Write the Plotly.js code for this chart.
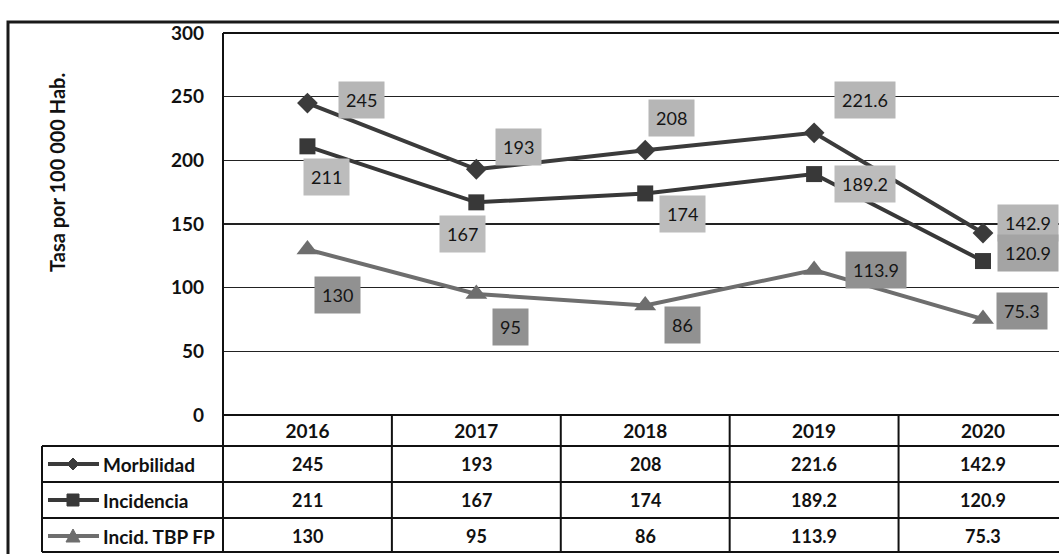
<!DOCTYPE html>
<html>
<head>
<meta charset="utf-8">
<script src="https://cdn.plot.ly/plotly-3.0.1.min.js"></script>
<style>html,body{margin:0;padding:0;background:#fff;}#chart{width:1059px;height:554px;}</style>
</head>
<body>
<div id="chart"></div>
<script>
// ---- data ----
const years = ["2016", "2017", "2018", "2019", "2020"];
const seriesNames = ["Morbilidad", "Incidencia", "Incid. TBP FP"];
const morbilidad = [245, 193, 208, 221.6, 142.9];
const incidencia = [211, 167, 174, 189.2, 120.9];
const incidTBP = [130, 95, 86, 113.9, 75.3];
const yTicks = [0, 50, 100, 150, 200, 250, 300];
const yTitle = "Tasa por 100 000 Hab.";

// ---- styles ----
const allSeries = [morbilidad, incidencia, incidTBP];
const lineColors = ["#3b3b3b", "#383838", "#6e6e6e"];
const markerSymbols = ["diamond", "square", "triangle-up"];
const markerSizes = [16, 16, 19];
const labelBg = [
  ["#b6b6b6", "#b6b6b6", "#b6b6b6", "#b6b6b6", "#b6b6b6"],
  ["#bcbcbc", "#bcbcbc", "#bcbcbc", "#bcbcbc", "#a4a4a4"],
  ["#919191", "#919191", "#919191", "#919191", "#919191"]
];
const labelShift = [
  [[54, 3], [42, 22], [26, 32], [51, 33], [45, 10]],
  [[19, -31], [-14, -32], [37, -21], [51, -10], [45, 8]],
  [[30, -46], [34, -33], [37, -20], [62, 0], [39, 8]]
];
const FONT = "Lato, 'Open Sans', sans-serif";

const traces = allSeries.map((vals, s) => ({
  type: "scatter",
  mode: "lines+markers",
  name: seriesNames[s],
  x: years,
  y: vals,
  line: {color: lineColors[s], width: 4},
  marker: {symbol: markerSymbols[s], size: markerSizes[s], color: lineColors[s]},
  cliponaxis: false,
  showlegend: false
}));

const annotations = [];
allSeries.forEach((vals, s) => {
  vals.forEach((v, i) => {
    annotations.push({
      x: i, y: v, xref: "x", yref: "y",
      text: String(v), showarrow: false,
      xanchor: "center", yanchor: "middle",
      xshift: labelShift[s][i][0], yshift: labelShift[s][i][1],
      bgcolor: labelBg[s][i], borderpad: 7,
      font: {family: FONT, size: 18, color: "#151515"}
    });
  });
});

// table geometry (paper coordinates; plot spans px 33..415 vertically)
const px2y = py => (415 - py) / 382;
const px2x = px => (px - 223) / 836;
const rowLines = [446, 482, 518, 552].map(px2y);
const rowCenters = [464, 500, 536].map(px2y);
const tableLeft = px2x(42);

// table values and legend text
allSeries.forEach((vals, s) => {
  vals.forEach((v, i) => {
    annotations.push({
      x: i, y: rowCenters[s], xref: "x", yref: "paper",
      xanchor: "center", yanchor: "middle",
      text: String(v), showarrow: false,
      font: {family: FONT, size: 18, color: "#111", weight: "bold"}
    });
  });
  annotations.push({
    x: px2x(101), y: rowCenters[s], xref: "paper", yref: "paper",
    xanchor: "left", yanchor: "middle", text: seriesNames[s], showarrow: false,
    font: {family: FONT, size: 19, color: "#111", weight: "bold"}
  });
});

// y-axis title
annotations.push({
  x: px2x(57), y: px2y(173), xref: "paper", yref: "paper",
  xanchor: "center", yanchor: "middle",
  text: yTitle, textangle: -90, showarrow: false,
  font: {family: FONT, size: 20, color: "#111", weight: "bold"}
});

const shapes = [];
// outer frame
shapes.push({type: "rect", xref: "paper", yref: "paper",
  x0: px2x(8), x1: 1.05, y0: px2y(22), y1: -0.6,
  line: {color: "#1a1a1a", width: 3}});
// top border of plot
shapes.push({type: "line", xref: "paper", yref: "paper",
  x0: 0, x1: 1, y0: 1, y1: 1, line: {color: "#111", width: 2}});
// left border extended down through table
shapes.push({type: "line", xref: "paper", yref: "paper",
  x0: 0, x1: 0, y0: 1, y1: rowLines[3], line: {color: "#111", width: 2}});
// horizontal table lines
rowLines.forEach((yy) => {
  shapes.push({type: "line", xref: "paper", yref: "paper",
    x0: tableLeft, x1: 1, y0: yy, y1: yy, line: {color: "#111", width: 2}});
});
// legend column left border
shapes.push({type: "line", xref: "paper", yref: "paper",
  x0: tableLeft, x1: tableLeft, y0: rowLines[0], y1: rowLines[3], line: {color: "#111", width: 2}});
// vertical dividers between years
for (let i = 0; i < years.length - 1; i++) {
  shapes.push({type: "line", xref: "x", yref: "paper",
    x0: i + 0.5, x1: i + 0.5, y0: 0, y1: rowLines[3], line: {color: "#111", width: 2}});
}
// legend keys (pixel paths, y up)
const keyPaths = [
  "M 0 -6 L 6 0 L 0 6 L -6 0 Z",
  "M -6 -6 L 6 -6 L 6 6 L -6 6 Z",
  "M 0 7 L 7 -6 L -7 -6 Z"
];
rowCenters.forEach((yy, s) => {
  shapes.push({type: "line", xref: "paper", yref: "paper",
    x0: px2x(48), x1: px2x(99), y0: yy, y1: yy, line: {color: lineColors[s], width: 4}});
  shapes.push({type: "path", xref: "paper", yref: "paper",
    xsizemode: "pixel", ysizemode: "pixel", xanchor: px2x(73), yanchor: yy,
    path: keyPaths[s], fillcolor: lineColors[s], line: {color: lineColors[s], width: 1}});
});

const layout = {
  width: 1059, height: 554,
  margin: {l: 223, r: 0, t: 33, b: 139, pad: 0},
  paper_bgcolor: "#fff", plot_bgcolor: "#fff",
  font: {family: FONT, color: "#111"},
  xaxis: {
    type: "category", range: [-0.5, 4.45],
    showgrid: false, zeroline: false, showline: false, ticks: "",
    tickfont: {family: FONT, size: 19, color: "#111", weight: "bold"},
    ticklabelstandoff: 3, fixedrange: true
  },
  yaxis: {
    range: [0, 300], tickvals: yTicks, ticktext: yTicks.map(String),
    showgrid: true, gridcolor: "#222", gridwidth: 1.5,
    zeroline: true, zerolinecolor: "#111", zerolinewidth: 2,
    showline: false, ticks: "",
    tickfont: {family: FONT, size: 19, color: "#111", weight: "bold"},
    ticklabelstandoff: 18, fixedrange: true
  },
  annotations: annotations,
  shapes: shapes,
  showlegend: false
};

Plotly.newPlot("chart", traces, layout, {displayModeBar: false, staticPlot: true});
</script>
</body>
</html>
